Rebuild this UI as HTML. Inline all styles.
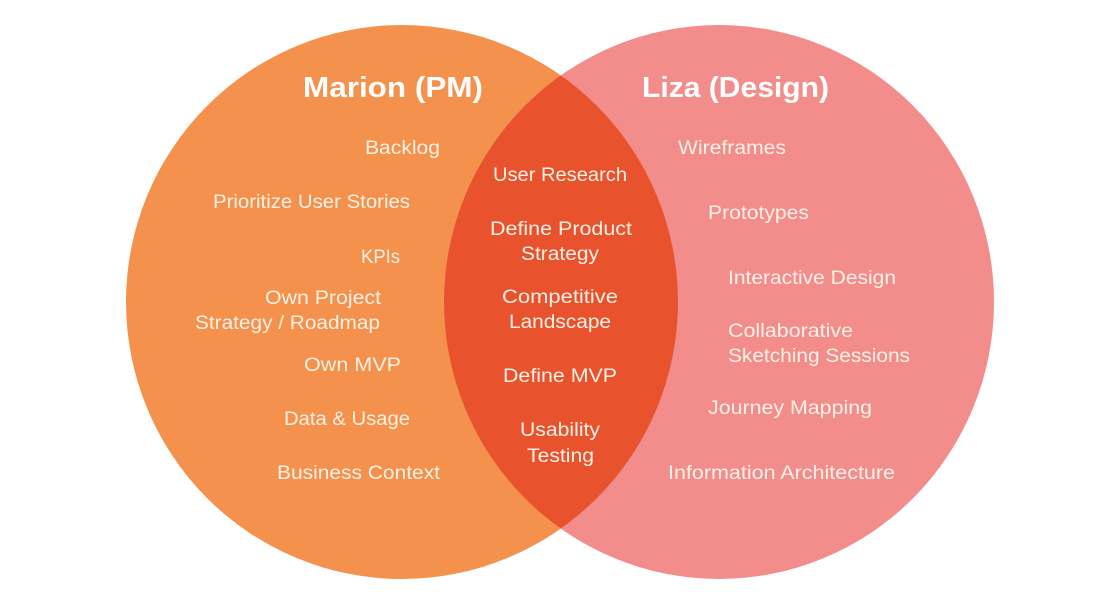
<!DOCTYPE html>
<html><head><meta charset="utf-8"><style>
html,body{margin:0;padding:0;background:#fff;width:1120px;height:600px;overflow:hidden}
svg text{font-family:"Liberation Sans",sans-serif;fill:#fdf1e6;font-size:19px}
.t{font-weight:bold;font-size:29px;fill:#fff}
</style></head><body>
<svg width="1120" height="600" viewBox="0 0 1120 600" xmlns="http://www.w3.org/2000/svg">
<defs><clipPath id="cl"><ellipse cx="402" cy="302" rx="276" ry="277"/></clipPath></defs>
<ellipse cx="402" cy="302" rx="276" ry="277" fill="#f4914c"/>
<ellipse cx="719" cy="302" rx="275" ry="277" fill="#f28d8c"/>
<ellipse cx="719" cy="302" rx="275" ry="277" fill="#e8532e" clip-path="url(#cl)"/>
<text class="t" x="303" y="97" textLength="180" lengthAdjust="spacingAndGlyphs">Marion (PM)</text>
<text class="t" x="642" y="97" textLength="187" lengthAdjust="spacingAndGlyphs">Liza (Design)</text>
<text x="365" y="154" textLength="75" lengthAdjust="spacingAndGlyphs">Backlog</text>
<text x="213" y="208" textLength="197" lengthAdjust="spacingAndGlyphs">Prioritize User Stories</text>
<text x="361" y="263" textLength="39" lengthAdjust="spacingAndGlyphs">KPIs</text>
<text x="265" y="304" textLength="116" lengthAdjust="spacingAndGlyphs">Own Project</text>
<text x="195" y="329" textLength="185" lengthAdjust="spacingAndGlyphs">Strategy / Roadmap</text>
<text x="304" y="371" textLength="97" lengthAdjust="spacingAndGlyphs">Own MVP</text>
<text x="284" y="425" textLength="126" lengthAdjust="spacingAndGlyphs">Data &amp; Usage</text>
<text x="277" y="479" textLength="163" lengthAdjust="spacingAndGlyphs">Business Context</text>
<text x="493" y="181" textLength="134" lengthAdjust="spacingAndGlyphs">User Research</text>
<text x="490" y="235" textLength="142" lengthAdjust="spacingAndGlyphs">Define Product</text>
<text x="521" y="260" textLength="78" lengthAdjust="spacingAndGlyphs">Strategy</text>
<text x="502" y="303" textLength="116" lengthAdjust="spacingAndGlyphs">Competitive</text>
<text x="509" y="328" textLength="102" lengthAdjust="spacingAndGlyphs">Landscape</text>
<text x="503" y="382" textLength="114" lengthAdjust="spacingAndGlyphs">Define MVP</text>
<text x="520" y="436" textLength="80" lengthAdjust="spacingAndGlyphs">Usability</text>
<text x="527" y="462" textLength="67" lengthAdjust="spacingAndGlyphs">Testing</text>
<text x="678" y="154" textLength="108" lengthAdjust="spacingAndGlyphs">Wireframes</text>
<text x="708" y="219" textLength="101" lengthAdjust="spacingAndGlyphs">Prototypes</text>
<text x="728" y="284" textLength="168" lengthAdjust="spacingAndGlyphs">Interactive Design</text>
<text x="728" y="337" textLength="125" lengthAdjust="spacingAndGlyphs">Collaborative</text>
<text x="728" y="362" textLength="182" lengthAdjust="spacingAndGlyphs">Sketching Sessions</text>
<text x="708" y="414" textLength="164" lengthAdjust="spacingAndGlyphs">Journey Mapping</text>
<text x="668" y="479" textLength="227" lengthAdjust="spacingAndGlyphs">Information Architecture</text>
</svg>
</body></html>
